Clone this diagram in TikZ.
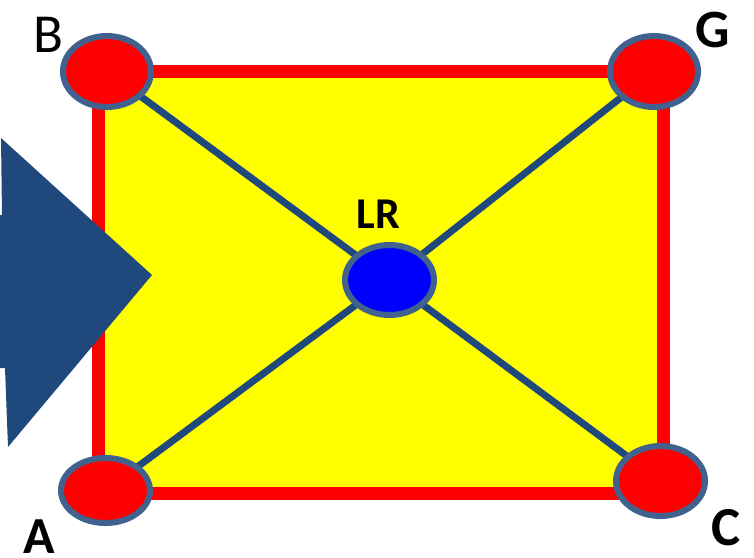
\documentclass[tikz,border=0pt]{standalone}
\usepackage{fontspec}
\setmainfont{Carlito}
\usetikzlibrary{shapes.geometric}
\definecolor{rd}{RGB}{255,0,0}
\definecolor{yl}{RGB}{255,255,0}
\definecolor{bl}{RGB}{0,0,255}
\definecolor{rim}{RGB}{65,97,143}
\definecolor{navy}{RGB}{31,73,125}
\tikzset{
  corner/.style={ellipse, draw=rim, line width=6pt, fill=rd, inner sep=0pt, minimum width=88pt, minimum height=71pt},
  hub/.style={ellipse, draw=rim, line width=6pt, fill=bl, inner sep=0pt, minimum width=89pt, minimum height=70pt},
  link/.style={draw=navy, line width=7pt},
  lbl/.style={inner sep=0pt, anchor=center, font=\fontsize{55}{60}\selectfont\bfseries},
  frame/.style={draw=rd, fill=yl, line width=13pt}
}
\begin{document}
\begin{tikzpicture}[x=1pt,y=-1pt]
\useasboundingbox (0,0) rectangle (754,557);
\begin{scope}
\clip (0,0) rectangle (754,557);
\fill[white] (0,0) rectangle (754,557);
\draw[frame] (98.5,71.5) rectangle (663,493.5);
\fill[navy] (-10,215) -- (2,215) -- (1,138) -- (152,275) -- (8,447) -- (5,368) -- (-10,368) -- cycle;
\coordinate (Bc) at (107,71.5);
\coordinate (Gc) at (654,71.5);
\coordinate (Ac) at (105.5,490.5);
\coordinate (Cc) at (660.5,481);
\coordinate (Lc) at (389.5,280);
\draw[link] (Bc) -- (Lc) -- (Cc);
\draw[link] (Gc) -- (Lc) -- (Ac);
\node[corner] (B) at (Bc) {};
\node[corner] (G) at (Gc) {};
\node[corner, minimum width=89pt, minimum height=65pt] (A) at (Ac) {};
\node[corner, minimum width=89pt, minimum height=70pt] (C) at (Cc) {};
\node[hub] (LR) at (Lc) {};
\node[lbl, font=\fontsize{55}{60}\selectfont] (tB) at (48.5,34.5) {B};
\node[lbl, font=\fontsize{54}{60}\selectfont\bfseries] (tG) at (712.5,30) {G};
\node[lbl, font=\fontsize{52}{60}\selectfont\bfseries] (tA) at (39,537) {A};
\node[lbl] (tC) at (726,527.5) {C};
\node[lbl, font=\fontsize{44}{50}\selectfont\bfseries] (tLR) at (378.5,214) {LR};
\end{scope}
\end{tikzpicture}
\end{document}
